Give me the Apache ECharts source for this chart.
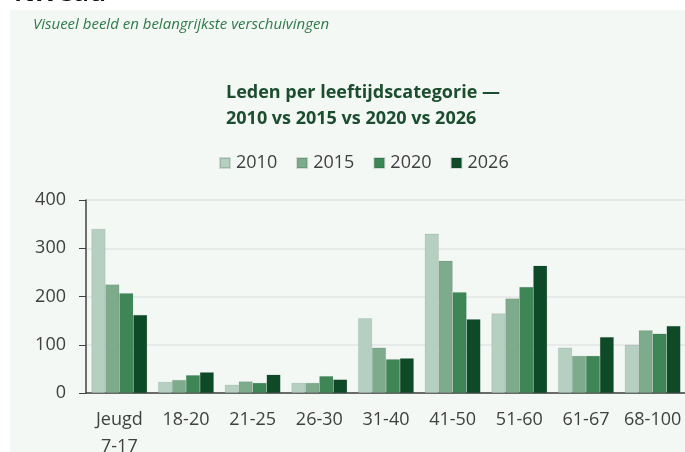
<!DOCTYPE html>
<html>
<head>
<meta charset="utf-8">
<script src="https://cdn.jsdelivr.net/npm/echarts@6/dist/echarts.min.js"></script>
<style>
html,body{margin:0;padding:0;background:#fff;}
#chart{width:685px;height:452px;}
</style>
</head>
<body>
<div id="chart"></div>
<script>
const categories = ['Jeugd\n7-17','18-20','21-25','26-30','31-40','41-50','51-60','61-67','68-100'];
const years = ['2010','2015','2020','2026'];
const values2010 = [340, 23, 17, 21, 155, 330, 165, 94, 100];
const values2015 = [225, 27, 24, 21, 94, 274, 196, 77, 130];
const values2020 = [207, 37, 21, 35, 70, 209, 220, 77, 123];
const values2026 = [162, 43, 38, 28, 72, 153, 264, 116, 139];
const yTicks = [0, 100, 200, 300, 400];
const colors = ['#b5cfc1', '#7eab8c', '#3f8657', '#0f4a28'];

const chart = echarts.init(document.getElementById('chart'));
const seriesData = [values2010, values2015, values2020, values2026];
chart.setOption({
  backgroundColor: '#ffffff',
  animation: false,
  textStyle: { fontFamily: 'Open Sans' },
  graphic: [
    { type: 'rect', left: 10, top: 10, shape: { width: 680, height: 450 }, style: { fill: '#f3f8f5' }, z: 0 },
    { type: 'text', x: 14, y: -6, style: { text: 'Niveau', fill: '#111', font: 'bold 26px "Open Sans"', verticalAlign: 'middle' }, z: 1 },
    { type: 'text', left: 33, top: 17, style: { text: 'Visueel beeld en belangrijkste verschuivingen', fill: '#2f7a48', font: 'italic 15px "Open Sans"' }, z: 2 },
    { type: 'text', left: 226, top: 80, style: { text: 'Leden per leeftijdscategorie —\n2010 vs 2015 vs 2020 vs 2026', fill: '#1b4d2e', font: 'bold 18px "Open Sans"', lineHeight: 26, align: 'left' }, z: 2 }
  ],
  legend: {
    top: 154,
    left: 219,
    padding: 0,
    itemWidth: 10,
    itemHeight: 10,
    itemGap: 19,
    icon: 'rect',
    textStyle: { fontSize: 18, color: '#404040', fontFamily: 'Open Sans', padding: [0, 0, 0, 1] },
    data: years
  },
  grid: { left: 86, right: -1, top: 200, bottom: 59, containLabel: false, outerBoundsMode: 'none' },
  xAxis: {
    type: 'category',
    data: categories,
    axisLine: { show: true, lineStyle: { color: '#404040', width: 1.5 } },
    axisTick: { show: false },
    axisLabel: { fontSize: 18, color: '#404040', margin: 13, lineHeight: 27, interval: 0 }
  },
  yAxis: {
    type: 'value',
    min: 0, max: 400, interval: 100,
    axisLine: { show: true, lineStyle: { color: '#404040', width: 1.5 } },
    axisTick: { show: true, length: 7, lineStyle: { color: '#404040' } },
    axisLabel: { fontSize: 18, color: '#404040', margin: 20, formatter: v => yTicks.includes(v) ? String(v) : '' },
    splitLine: { show: true, lineStyle: { color: '#e4e6e4', width: 1.5 } }
  },
  series: years.map((y, i) => ({
    name: y,
    type: 'bar',
    data: seriesData[i],
    barGap: '0%',
    barCategoryGap: '16.5%',
    itemStyle: { color: colors[i], borderColor: 'rgba(0,40,20,0.15)', borderWidth: 0.6 }
  }))
});
</script>
</body>
</html>
